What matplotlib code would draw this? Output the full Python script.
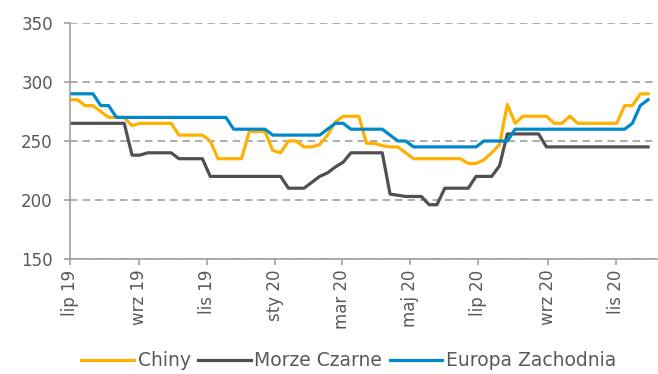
import matplotlib
matplotlib.use('Agg')
import matplotlib.pyplot as plt
import pandas as pd

# tygodniowe notowania, od poczatku lipca 2019
daty = pd.date_range('2019-07-01', periods=75, freq='7D')

chiny = [285, 285, 280, 280, 275, 270, 270, 270, 263, 265,
         265, 265, 265, 265, 255, 255, 255, 255, 250, 235,
         235, 235, 235, 258, 258, 258, 242, 240, 250, 250,
         245, 245, 247, 255, 266, 271, 271, 271, 248, 248,
         246, 245, 245, 240, 235, 235, 235, 235, 235, 235,
         235, 231, 231, 234, 240, 247, 281, 265, 271, 271,
         271, 271, 265, 265, 271, 265, 265, 265, 265, 265,
         265, 280, 280, 290, 290]

morze_czarne = ([265] * 8 + [238, 238] + [240] * 4 + [235] * 4 + [220] * 10
                + [210] * 3 + [215, 220, 223, 228, 232] + [240] * 5
                + [205, 204, 203, 203, 203, 196, 196] + [210] * 4 + [220] * 3
                + [229] + [256] * 5 + [245] * 14)

europa_zach = ([290] * 4 + [280] * 2 + [270] * 15 + [260] * 5 + [255] * 7
               + [260] + [265] * 2 + [260] * 5 + [255] + [250] * 2 + [245] * 9
               + [250] * 4 + [260] * 15 + [265, 280, 285])

tick_daty = pd.to_datetime(['2019-07-01', '2019-09-01', '2019-11-01', '2020-01-01',
                            '2020-03-01', '2020-05-01', '2020-07-01', '2020-09-01',
                            '2020-11-01'])
tick_etykiety = ['lip 19', 'wrz 19', 'lis 19', 'sty 20', 'mar 20', 'maj 20',
                 'lip 20', 'wrz 20', 'lis 20']

szary = '#595959'
kolor_osi = '#a0a0a0'

fig = plt.figure(figsize=(6.58, 3.74), dpi=100)
ax = fig.add_axes([69.5 / 658, 1 - 259 / 374, (657 - 69.5) / 658, (259 - 23) / 374])

ax.plot(daty, chiny, color='#ffb000', lw=2.3, label='Chiny')
ax.plot(daty, morze_czarne, color='#505050', lw=2.3, label='Morze Czarne')
ax.plot(daty, europa_zach, color='#0088cc', lw=2.3, label='Europa Zachodnia')

ax.set_ylim(150, 350)
ax.set_yticks([150, 200, 250, 300, 350])
ax.set_xlim(pd.Timestamp('2019-07-01'), pd.Timestamp('2020-12-08'))
ax.set_xticks(tick_daty)
ax.set_xticklabels(tick_etykiety, rotation=90)

# siatka pozioma przerywana
ax.grid(axis='y', color=kolor_osi, ls=(0, (4.5, 3)), lw=1.2)
ax.set_axisbelow(True)

for s in ['top', 'right']:
    ax.spines[s].set_visible(False)
for s in ['left', 'bottom']:
    ax.spines[s].set_color(kolor_osi)
    ax.spines[s].set_linewidth(1.2)

ax.tick_params(axis='both', colors=kolor_osi, labelcolor=szary, labelsize=12,
               length=4, width=1.2)
ax.tick_params(axis='y', pad=8)

fig.legend(loc='lower center', bbox_to_anchor=(0.53, -0.035), ncol=3,
           frameon=False, fontsize=13.5, handlelength=2.8, handletextpad=0.2,
           columnspacing=0.4, labelcolor=szary)

fig.savefig('out.png', dpi=100)
